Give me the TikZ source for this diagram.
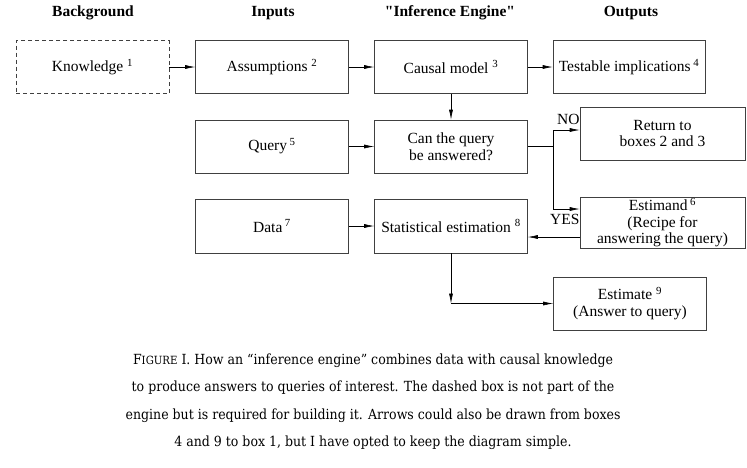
\documentclass[tikz,border=0pt]{standalone}
\usepackage{fontspec}
\setmainfont[Ligatures = TeXOff]{Liberation Serif}
\newfontfamily\capfont{DejaVu Serif Condensed}
\usetikzlibrary{arrows.meta}

\tikzset{
	box/.style = {draw = black!75, line width = 0.6pt, minimum width = 153pt, minimum height = 53pt, inner sep = 1pt, align = center},
	head/.style = {font = \fontsize{15.5}{17}\selectfont\bfseries},
	conn/.style = {line width = 0.6pt, -{Latex[length = 10pt, width = 4pt]}}
}

\begin{document}
\begin{tikzpicture}[x = 1pt, y = -1pt, font = \fontsize{15.5}{16.5}\selectfont]
			\useasboundingbox (0,0) rectangle (747,467);
			
			\node [head] (bg) at (93,13) {Background};
			\node [head] (in) at (273,13) {Inputs};
			\node [head] (eng) at (450,13) {"Inference Engine"};
			\node [head] (out) at (631,13) {Outputs};
			
			\node [box, dashed, dash pattern = on 4pt off 3pt] (know) at (92.5,67) {Knowledge \textsuperscript{1}};
			\node [box] (assum) at (272,67) {Assumptions \textsuperscript{2}};
			\node [box] (model) at (451,67) {Causal model \textsuperscript{3}};
			\node [box, minimum width = 152pt] (test) at (629,67) {Testable implications\,\textsuperscript{4}};
			
			\node [box] (query) at (272,146.5) {Query\,\textsuperscript{5}};
			\node [box] (ask) at (451,146.5) {Can the query\\be answered?};
			\node [box, minimum height = 54pt] (data) at (272,226) {Data\,\textsuperscript{7}};
			\node [box, minimum height = 54pt] (stat) at (451,226) {Statistical estimation \textsuperscript{8}};
			
			\node [box, minimum width = 165pt] (ret) at (662.5,133.5) {Return to\\boxes 2 and 3};
			\node [box, minimum width = 165pt, minimum height = 51pt] (estimand) at (662.5,222.5) {Estimand\,\textsuperscript{6}\\(Recipe for\\answering the query)};
			\node [box] (estimate) at (630,303.5) {Estimate \textsuperscript{9}\\(Answer to query)};
			
			\coordinate (split) at (553,146.5);
			\coordinate (no end) at ([yshift = 3.5pt]ret.west);
			\coordinate (yes end) at ([yshift = 13.5pt]estimand.west);
			\coordinate (no turn) at (split |- no end);
			\coordinate (yes turn) at (split |- yes end);
			\coordinate (back) at ([yshift = -14.5pt]estimand.west);
			\coordinate (corner) at (stat.south |- estimate.west);
			
			\draw [conn] (know) -- (assum);
			\draw [conn] (assum) -- (model);
			\draw [conn] (model) -- (test);
			\draw [conn] (model) -- (ask);
			\draw [conn] (query) -- (ask);
			\draw [conn] (data) -- (stat);
			
			\draw [line width = 0.6pt] (ask.east) -- (split);
			\draw [conn] (split) -- (no turn) -- (no end);
			\draw [conn] (split) -- (yes turn) -- (yes end);
			\node [anchor = south west, inner sep = 1pt] (no) at ([xshift = 3pt, yshift = 4pt]no turn) {NO};
			\node [anchor = north west, inner sep = 1pt] (yes) at ([xshift = -4pt, yshift = -4pt]yes turn) {YES};
			\draw [conn] (back) -- (back -| stat.east);
			\draw [conn] (stat) -- (corner);
			\draw [conn] (corner) -- (estimate);
			
			\node [font = \capfont\fontsize{13.95}{27.5}\selectfont, align = center] (caption) at (373,401.5)
				{F{\fontsize{11.3}{11.3}\selectfont IGURE} I. How an “inference engine” combines data with causal knowledge\\
				to produce answers to queries of interest. The dashed box is not part of the\\
				engine but is required for building it. Arrows could also be drawn from boxes\\
				4 and 9 to box 1, but I have opted to keep the diagram simple.};
		\end{tikzpicture}
\end{document}
